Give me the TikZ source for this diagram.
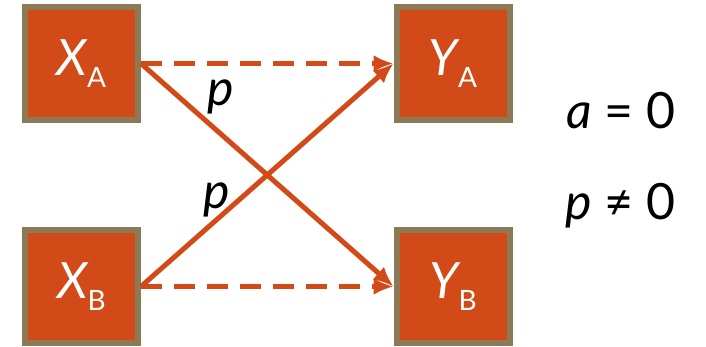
\documentclass[tikz,border=0pt]{standalone}
\usepackage{fontspec}
\setmainfont{Lato}
\usetikzlibrary{arrows.meta}

\definecolor{boxfill}{HTML}{D24A17}
\definecolor{boxedge}{HTML}{8B7A55}

\begin{document}
\begin{tikzpicture}[
  x=1pt, y=-1pt,
  var/.style={draw=boxedge, fill=boxfill, line width=6pt, minimum size=113pt,
    inner sep=0pt, text=white, font=\fontsize{50}{50}\selectfont},
  link/.style={-{Latex[length=20pt, width=17pt]}, line width=5pt, draw=boxfill},
  nolink/.style={link, dash pattern=on 21pt off 12pt},
  lbl/.style={anchor=base west, inner sep=0pt, font=\fontsize{50}{50}\selectfont}
]
\useasboundingbox (0,0) rectangle (706,347);

% Variables.
\node[var] (xa) at (81.5,63.5) {\itshape X\raisebox{-0.5ex}{\fontsize{28}{28}\selectfont\upshape A}};
\node[var] (xb) at (81.5,286.5) {\itshape X\raisebox{-0.5ex}{\fontsize{28}{28}\selectfont\upshape B}};
\node[var] (ya) at (453,63.5) {\itshape Y\raisebox{-0.5ex}{\fontsize{28}{28}\selectfont\upshape A}};
\node[var] (yb) at (453,286.5) {\itshape Y\raisebox{-0.5ex}{\fontsize{28}{28}\selectfont\upshape B}};

% Links.
\draw[nolink] (xa.east) -- (ya.west);
\draw[nolink] (xb.east) -- (yb.west);
\draw[link] (xa.east) -- (yb.west);
\draw[link] (xb.east) -- (ya.west);

\node[lbl] (pa) at (207,106) {\itshape p};
\node[lbl] (pb) at (203,209) {\itshape p};

% Conditions.
\node[lbl] (acond) at (566,129) {\itshape a\upshape{} = 0};
\node[lbl] (pcond) at (565,220) {\itshape p\upshape{} ≠ 0};

\end{tikzpicture}
\end{document}
